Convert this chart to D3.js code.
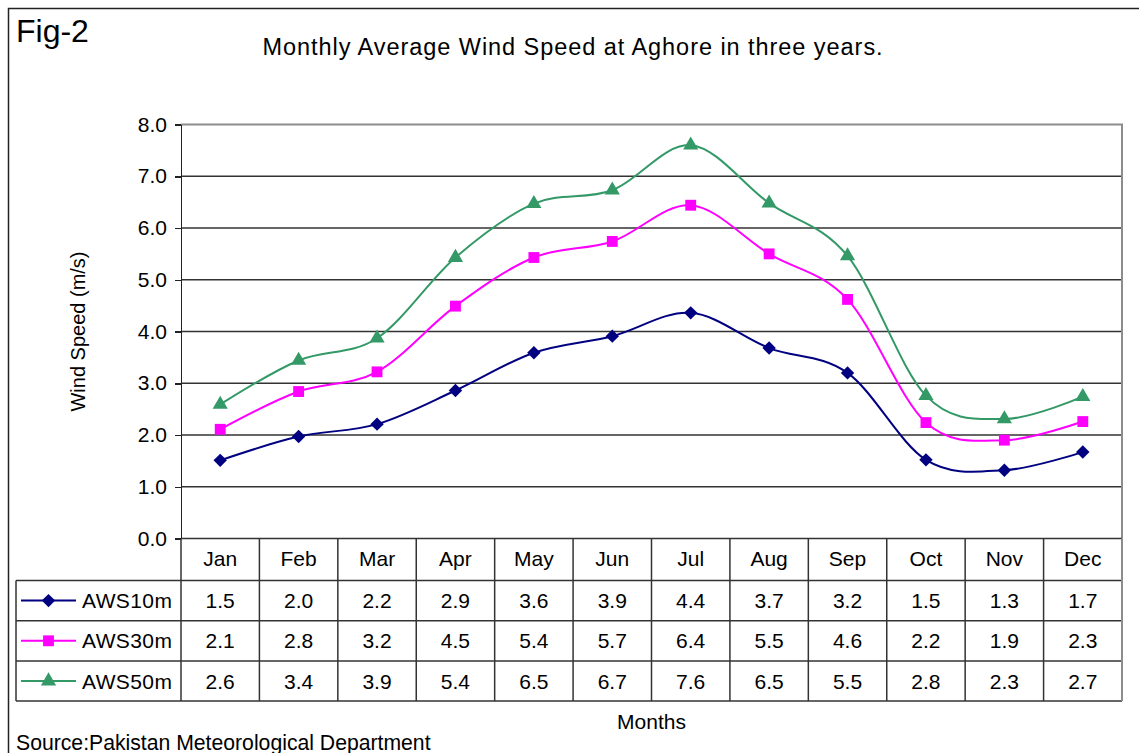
<!DOCTYPE html>
<meta charset="utf-8">
<html>
<head>
<style>
  body { margin: 0; background: #fff; }
  svg { display: block; font-family: "Liberation Sans", Arial, sans-serif; }
  .axis path, .axis line { stroke: #222; stroke-width: 1.5px; shape-rendering: crispEdges; }
  .axis text { font-size: 21px; fill: #000; }
  .grid line { stroke: #333; stroke-width: 1.5px; }
  .tbl line { stroke: #333; stroke-width: 1.5px; }
  .cell { font-size: 21px; fill: #000; text-anchor: middle; }
</style>
</head>
<body>
<svg width="1139" height="753"></svg>
<script src="https://cdn.jsdelivr.net/npm/d3@7"></script>
<script>

var months = ["Jan", "Feb", "Mar", "Apr", "May", "Jun", "Jul", "Aug", "Sep", "Oct", "Nov", "Dec"];
var seriesNames = ["AWS10m", "AWS30m", "AWS50m"];
var aws10 = [1.51, 1.97, 2.21, 2.86, 3.59, 3.91, 4.36, 3.68, 3.20, 1.52, 1.32, 1.67];
var aws30 = [2.11, 2.84, 3.22, 4.49, 5.43, 5.74, 6.44, 5.50, 4.62, 2.24, 1.90, 2.26];
var aws50 = [2.59, 3.44, 3.87, 5.43, 6.47, 6.73, 7.60, 6.48, 5.46, 2.76, 2.31, 2.74];
var yTicks = [0, 1, 2, 3, 4, 5, 6, 7, 8];
var colors = ["#000080", "#ff00ff", "#339966"];

var svg = d3.select("svg"),
    plot = {left: 181, right: 1122, top: 124.5, bottom: 538.5},
    headerH = 42,
    rowH = 40.2,
    tableLeft = 16;

var values = [aws10, aws30, aws50];
var fmt = d3.format(".1f");

var x = d3.scaleBand().domain(months).range([plot.left, plot.right]).padding(0);
var y = d3.scaleLinear().domain([0, 8]).range([plot.bottom, plot.top]);

// outer chart frame (right/bottom edges sit outside the window)
svg.append("rect")
    .attr("x", 8.5).attr("y", 8.5)
    .attr("width", 1160).attr("height", 780)
    .attr("fill", "none").attr("stroke", "#222").attr("stroke-width", 1.5);

svg.append("text")
    .attr("x", 16).attr("y", 42)
    .style("font-size", "32px")
    .text("Fig-2");

svg.append("text")
    .attr("x", 573).attr("y", 55)
    .attr("text-anchor", "middle")
    .style("font-size", "23.5px")
    .style("letter-spacing", "0.95px")
    .text("Monthly Average Wind Speed at Aghore in three years.");

// gridlines
svg.append("g").attr("class", "grid")
  .selectAll("line")
  .data(yTicks.filter(function(d) { return d > 0 && d < 8; }))
  .enter().append("line")
    .attr("x1", plot.left).attr("x2", plot.right)
    .attr("y1", function(d) { return y(d); })
    .attr("y2", function(d) { return y(d); });

// top and right border of plot area (gray)
svg.append("path")
    .attr("d", "M" + plot.left + "," + y(8) + "H" + plot.right + "V" + plot.bottom)
    .attr("fill", "none").attr("stroke", "#8c8c8c").attr("stroke-width", 2);

svg.append("g")
    .attr("class", "axis")
    .attr("transform", "translate(" + plot.left + ",0)")
    .call(d3.axisLeft(y).tickValues(yTicks).tickFormat(fmt).tickSize(6).tickPadding(8).tickSizeOuter(0));

svg.append("text")
    .attr("transform", "translate(85," + ((plot.top + plot.bottom) / 2) + ") rotate(-90)")
    .attr("text-anchor", "middle")
    .style("font-size", "20px")
    .text("Wind Speed (m/s)");

// data table
var tbl = svg.append("g").attr("class", "tbl");
var tableBottom = plot.bottom + headerH + rowH * 3;

tbl.append("line")
    .attr("x1", plot.left).attr("x2", plot.right)
    .attr("y1", plot.bottom).attr("y2", plot.bottom);

for (var r = 0; r <= 3; r++) {
  var ry = plot.bottom + headerH + rowH * r;
  tbl.append("line")
      .attr("x1", tableLeft).attr("x2", plot.right)
      .attr("y1", ry).attr("y2", ry);
}

tbl.append("line")
    .attr("x1", tableLeft).attr("x2", tableLeft)
    .attr("y1", plot.bottom + headerH).attr("y2", tableBottom);

tbl.selectAll(".vline")
  .data(months)
  .enter().append("line")
    .attr("class", "vline")
    .attr("x1", function(d) { return x(d); })
    .attr("x2", function(d) { return x(d); })
    .attr("y1", plot.bottom).attr("y2", tableBottom);

tbl.append("line")
    .attr("x1", plot.right).attr("x2", plot.right)
    .attr("y1", plot.bottom).attr("y2", tableBottom)
    .style("stroke", "#8c8c8c").style("stroke-width", 2);

tbl.selectAll(".month")
  .data(months)
  .enter().append("text")
    .attr("class", "cell")
    .attr("x", function(d) { return x(d) + x.bandwidth() / 2; })
    .attr("y", plot.bottom + headerH / 2 + 6.5)
    .text(function(d) { return d; });

var symbols = [
  d3.symbol().type(d3.symbolSquare).size(90),
  d3.symbol().type(d3.symbolSquare).size(118),
  d3.symbol().type(d3.symbolTriangle).size(100)
];
var rot = [45, 0, 0];

var line = d3.line()
    .curve(d3.curveCardinal.tension(0))
    .x(function(d, i) { return x(months[i]) + x.bandwidth() / 2; })
    .y(function(d) { return y(d); });

values.forEach(function(vals, s) {
  var rowY = plot.bottom + headerH + rowH * s + rowH / 2;

  tbl.selectAll(".v" + s)
    .data(vals)
    .enter().append("text")
      .attr("class", "cell")
      .attr("x", function(d, i) { return x(months[i]) + x.bandwidth() / 2; })
      .attr("y", rowY + 7.5)
      .text(function(d) { return fmt(d); });

  // legend key in the table
  svg.append("line")
      .attr("x1", 21).attr("x2", 76)
      .attr("y1", rowY).attr("y2", rowY)
      .attr("stroke", colors[s]).attr("stroke-width", 2);
  svg.append("path")
      .attr("d", symbols[s]())
      .attr("transform", "translate(48.5," + rowY + ") rotate(" + rot[s] + ")")
      .attr("fill", colors[s]);
  svg.append("text")
      .attr("x", 82).attr("y", rowY + 7.5)
      .style("font-size", "21px")
      .style("letter-spacing", "0.4px")
      .text(seriesNames[s]);

  // series line and markers
  svg.append("path")
      .datum(vals)
      .attr("fill", "none")
      .attr("stroke", colors[s])
      .attr("stroke-width", 2)
      .attr("d", line);

  svg.selectAll(".m" + s)
    .data(vals)
    .enter().append("path")
      .attr("d", symbols[s]())
      .attr("fill", colors[s])
      .attr("transform", function(d, i) {
        return "translate(" + (x(months[i]) + x.bandwidth() / 2) + "," + y(d) + ") rotate(" + rot[s] + ")";
      });
});

svg.append("text")
    .attr("x", (plot.left + plot.right) / 2).attr("y", 729)
    .attr("text-anchor", "middle")
    .style("font-size", "21px")
    .text("Months");

svg.append("text")
    .attr("x", 16).attr("y", 750)
    .style("font-size", "21.2px")
    .text("Source:Pakistan Meteorological Department");

</script>
</body>
</html>
